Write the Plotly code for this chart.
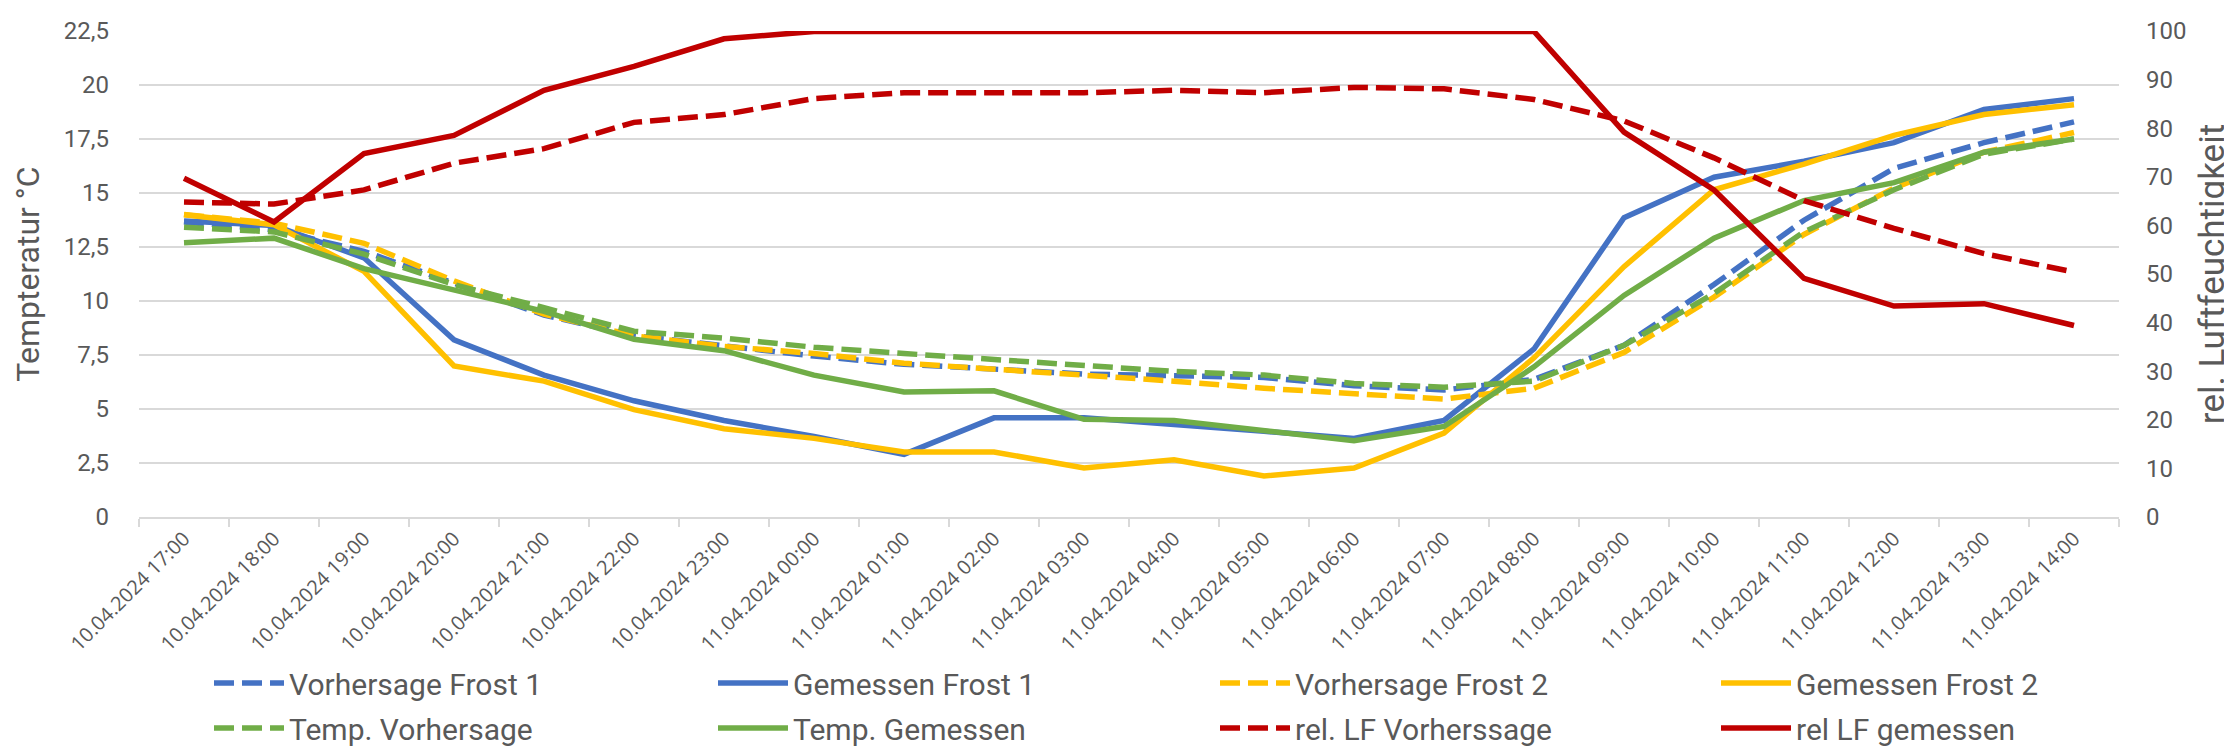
import plotly.graph_objects as go

categories = ["10.04.2024 17:00", "10.04.2024 18:00", "10.04.2024 19:00", "10.04.2024 20:00",
              "10.04.2024 21:00", "10.04.2024 22:00", "10.04.2024 23:00", "11.04.2024 00:00",
              "11.04.2024 01:00", "11.04.2024 02:00", "11.04.2024 03:00", "11.04.2024 04:00",
              "11.04.2024 05:00", "11.04.2024 06:00", "11.04.2024 07:00", "11.04.2024 08:00",
              "11.04.2024 09:00", "11.04.2024 10:00", "11.04.2024 11:00", "11.04.2024 12:00",
              "11.04.2024 13:00", "11.04.2024 14:00"]

vorhersage_frost1 = [13.66, 13.3, 12.3, 10.8, 9.35, 8.4, 7.95, 7.45, 7.07, 6.87, 6.62, 6.54, 6.46, 6.08, 5.88,
                     6.37, 7.95, 10.76, 13.74, 16.14, 17.33, 18.29]
gemessen_frost1 = [13.7, 13.5, 12.0, 8.2, 6.57, 5.38, 4.47, 3.73, 2.9, 4.59, 4.59, 4.25, 3.97, 3.64, 4.47,
                   7.78, 13.86, 15.73, 16.47, 17.33, 18.87, 19.37]
vorhersage_frost2 = [14.0, 13.6, 12.67, 10.93, 9.39, 8.39, 7.9, 7.57, 7.12, 6.84, 6.62, 6.29, 5.96, 5.68, 5.46,
                     5.96, 7.62, 10.18, 13.08, 15.23, 16.89, 17.8]
gemessen_frost2 = [13.99, 13.53, 11.37, 6.99, 6.29, 4.97, 4.09, 3.64, 3.01, 3.01, 2.27, 2.65, 1.9, 2.27, 3.89,
                   7.37, 11.59, 15.15, 16.34, 17.67, 18.63, 19.09]
temp_vorhersage = [13.41, 13.2, 12.17, 10.76, 9.69, 8.6, 8.28, 7.86, 7.57, 7.28, 7.04, 6.74, 6.57, 6.18, 6.01,
                   6.29, 7.95, 10.35, 13.2, 15.15, 16.8, 17.5]
temp_gemessen = [12.7, 12.91, 11.5, 10.51, 9.52, 8.23, 7.7, 6.57, 5.79, 5.84, 4.52, 4.47, 3.97, 3.53, 4.19,
                 6.95, 10.26, 12.91, 14.65, 15.48, 16.89, 17.5]
rel_lf_vorhersage = [64.8, 64.4, 67.3, 72.8, 75.8, 81.2, 82.8, 86.1, 87.3, 87.3, 87.3, 87.8, 87.3, 88.4, 88.1,
                     85.9, 81.5, 73.9, 65.1, 59.4, 54.2, 50.4]
rel_lf_gemessen = [69.7, 60.7, 74.8, 78.5, 87.8, 92.7, 98.4, 99.9, 99.9, 99.9, 99.8, 99.8, 99.8, 99.8, 99.8,
                   99.9, 79.2, 67.3, 49.1, 43.4, 43.9, 39.4]

left_ticks = [0, 2.5, 5, 7.5, 10, 12.5, 15, 17.5, 20, 22.5]
right_ticks = [0, 10, 20, 30, 40, 50, 60, 70, 80, 90, 100]

BLUE = "#4472C4"
YELLOW = "#FFC000"
GREEN = "#70AD47"
RED = "#C00000"
TXT = "#595959"
GRID = "#D9D9D9"
MAIN = "Roboto, Lato, sans-serif"

# (name, values, color, dashed, axis, legend column, legend row)
series = [
    ("Vorhersage Frost 1", vorhersage_frost1, BLUE, True, "y", 0, 0),
    ("Gemessen Frost 1", gemessen_frost1, BLUE, False, "y", 1, 0),
    ("Vorhersage Frost 2", vorhersage_frost2, YELLOW, True, "y", 2, 0),
    ("Gemessen Frost 2", gemessen_frost2, YELLOW, False, "y", 3, 0),
    ("Temp. Vorhersage", temp_vorhersage, GREEN, True, "y", 0, 1),
    ("Temp. Gemessen", temp_gemessen, GREEN, False, "y", 1, 1),
    ("rel. LF Vorherssage", rel_lf_vorhersage, RED, True, "y2", 2, 1),
    ("rel LF gemessen", rel_lf_gemessen, RED, False, "y2", 3, 1),
]

W, H = 2232, 750
ML, MR, MT, MB = 131, 121, 23, 241
PW, PH = W - ML - MR, H - MT - MB
col_x = [201, 705, 1207, 1708]
row_y = [675, 720]

fig = go.Figure()
legends = {}
for i, (name, vals, color, dashed, axis, col, row) in enumerate(series):
    lname = f"legend{i + 2}"
    fig.add_trace(go.Scatter(
        x=categories, y=vals, name=name, mode="lines", yaxis=axis, legend=lname,
        line=dict(color=color, width=5.5, dash="20px,8px" if dashed else "solid"),
    ))
    legends[lname] = dict(
        xref="paper", yref="paper",
        x=(col_x[col] - ML) / PW, y=(H - MB - row_y[row]) / PH, xanchor="left", yanchor="middle",
        font=dict(family=MAIN, size=30, color=TXT), bgcolor="rgba(0,0,0,0)",
        itemwidth=70,
    )

fig.update_layout(
    width=W, height=H,
    margin=dict(l=ML, r=MR, t=MT, b=MB, autoexpand=False),
    plot_bgcolor="white", paper_bgcolor="white",
    separators=",.",
    font=dict(family=MAIN, color=TXT, size=24),
    xaxis=dict(
        type="category", range=[-0.5, 21.5], automargin=False,
        tickangle=-45, tickson="boundaries", ticks="outside", ticklen=8, tickcolor=GRID, tickwidth=2,
        showline=True, linecolor=GRID, linewidth=2, showgrid=False,
        tickfont=dict(family="Open Sans, sans-serif", size=20, color=TXT),
    ),
    yaxis=dict(
        range=[0, 22.5], tickvals=left_ticks, showgrid=True, gridcolor=GRID, gridwidth=2,
        zeroline=False, showline=False, ticks="", ticklabelstandoff=29, automargin=False,
        title=dict(text="Tempteratur °C", font=dict(family=MAIN, size=32, color=TXT), standoff=14),
        tickfont=dict(family=MAIN, size=24, color=TXT),
    ),
    yaxis2=dict(
        range=[0, 100], tickvals=right_ticks, overlaying="y", side="right", showgrid=False,
        zeroline=False, showline=False, ticks="", ticklabelstandoff=26, automargin=False,
        title=dict(text="rel. Luftfeuchtigkeit", font=dict(family=MAIN, size=35, color=TXT), standoff=14),
        tickfont=dict(family=MAIN, size=24, color=TXT),
    ),
    **legends,
)

fig.write_html("out.html")
